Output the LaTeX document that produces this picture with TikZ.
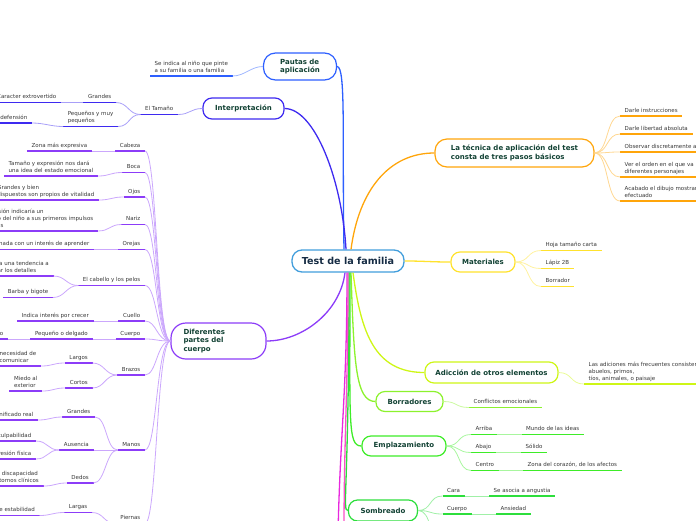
\documentclass[tikz,border=0pt]{standalone}
\usepackage{fontspec}
\setmainfont{DejaVu Sans}
\usetikzlibrary{positioning}

\begin{document}
\begin{tikzpicture}[
    x=1pt, y=-1pt,
    root/.style={
      rectangle, rounded corners=10pt,
      draw=rootBlue, fill=white, line width=1.3pt,
      minimum width=112pt, minimum height=22pt, inner sep=0pt,
      font=\bfseries\fontsize{9.6}{11}\selectfont, text=rootText
    },
    topic/.style={
      rectangle, rounded corners=9pt,
      draw=#1, fill=white, line width=1.2pt,
      inner sep=0pt, align=left,
      font=\bfseries\fontsize{7}{8.3}\selectfont, text=titleGreen
    },
    item/.style={
      inner xsep=4.5pt, inner ysep=2.2pt, text depth=1.5pt, align=left,
      font=\fontsize{5.5}{7}\selectfont, text=textGray,
      append after command={(\tikzlastnode.south west) edge[draw=#1, line width=1.8pt] (\tikzlastnode.south east)}
    },
    branch/.style={draw=#1, line width=1.3pt},
    link/.style={draw=#1!45, line width=0.8pt}
  ]
    \definecolor{rootBlue}{RGB}{66,158,220}
    \definecolor{rootText}{RGB}{22,44,68}
    \definecolor{titleGreen}{RGB}{18,66,52}
    \definecolor{textGray}{RGB}{55,55,55}
    \definecolor{pautaBlue}{RGB}{45,95,255}
    \definecolor{interViolet}{RGB}{62,42,240}
    \definecolor{tecOrange}{RGB}{255,165,10}
    \definecolor{matYellow}{RGB}{255,226,45}
    \definecolor{adicLime}{RGB}{206,246,22}
    \definecolor{borrGreen}{RGB}{140,242,45}
    \definecolor{emplGreen}{RGB}{62,236,40}
    \definecolor{sombGreen}{RGB}{45,222,60}
    \definecolor{bodyPurple}{RGB}{140,60,248}
    \definecolor{otherPink}{RGB}{232,40,222}
    \definecolor{otherRose}{RGB}{250,80,200}

    \useasboundingbox (0,0) rectangle (696,520);
    \clip (0,0) rectangle (696,520);

    % central topic
    \node[root] (test) at (348,261) {Test de la familia};

    % main topics
    \node[topic=pautaBlue, minimum width=73pt, minimum height=27pt, rounded corners=12pt] (pautas) at (300,66.5) {Pautas de\\aplicación};
    \node[topic=interViolet, minimum width=81pt, minimum height=21pt] (interp) at (243.5,108.5) {Interpretación};
    \node[topic=tecOrange, minimum width=159pt, minimum height=28pt, rounded corners=12pt] (tecnica) at (514.5,153) {La técnica de aplicación del test\\consta de tres pasos básicos};
    \node[topic=matYellow, minimum width=64pt, minimum height=20pt] (mat) at (483,262) {Materiales};
    \node[topic=adicLime, minimum width=133pt, minimum height=21pt] (adic) at (491.5,372.5) {Adicción de otros elementos};
    \node[topic=borrGreen, minimum width=67pt, minimum height=20pt] (borr) at (409.5,401.5) {Borradores};
    \node[topic=emplGreen, minimum width=84pt, minimum height=20pt] (empl) at (404,446) {Emplazamiento};
    \node[topic=sombGreen, minimum width=69pt, minimum height=21pt] (somb) at (383,510.5) {Sombreado};
    \node[topic=bodyPurple, inner xsep=12.5pt, text width=70pt, minimum height=36pt, rounded corners=15pt] (body) at (218.5,341) {Diferentes\\partes del\\cuerpo};

    % branches from the centre
    \draw[branch=pautaBlue] (pautas.east) .. controls +(9,0) and +(-2,-110) .. ([xshift=-4pt]test.north);
    \draw[branch=interViolet] (interp.east) .. controls +(30,0) and +(-4,-70) .. ([xshift=-2pt]test.north);
    \draw[branch=tecOrange] ([xshift=3pt]test.north) .. controls +(8,-60) and +(-45,0) .. (tecnica.west);
    \draw[branch=matYellow] (test.east) .. controls +(20,0) and +(-20,0) .. (mat.west);
    \draw[branch=adicLime] ([xshift=5pt]test.south) .. controls +(8,60) and +(-50,0) .. (adic.west);
    \draw[branch=borrGreen] ([xshift=3pt]test.south) .. controls +(3,90) and +(-20,0) .. (borr.west);
    \draw[branch=emplGreen] ([xshift=2pt]test.south) .. controls +(0,150) and +(-14,0) .. (empl.west);
    \draw[branch=sombGreen] ([xshift=1pt]test.south) .. controls +(0,220) and +(-6,0) .. (somb.west);
    \coordinate (offA) at (338,535);
    \coordinate (offB) at (344,535);
    \draw[branch=otherPink] ([xshift=-1pt]test.south) .. controls +(0,120) and +(2,-100) .. (offA);
    \draw[branch=otherRose] (test.south) .. controls +(0,120) and +(0,-100) .. (offB);
    \draw[branch=bodyPurple] ([xshift=-3pt]test.south) .. controls +(-5,40) and +(35,0) .. (body.east);

    % Pautas de aplicacion
    \node[item=pautaBlue, anchor=south west] (pinte) at (150,76) {Se indica al niño que pinte\\a su familia o una familia};
    \draw[link=pautaBlue] (pautas.west) .. controls +(-12,0) and +(12,0) .. (pinte.south east);

    % Interpretacion
    \node[item=interViolet, anchor=south east] (tamano) at (178,114.5) {El Tamaño};
    \node[item=interViolet, anchor=south east] (grandesT) at (116,102.5) {Grandes};
    \node[item=interViolet, anchor=south east] (caracter) at (61,102.5) {Caracter extrovertido};
    \node[item=interViolet, anchor=south east] (pequenos) at (118,126.5) {Pequeños y muy\\pequeños};
    \node[item=interViolet, anchor=south east] (defension) at (32,123) {defensión};
    \draw[link=interViolet] (interp.west) .. controls +(-12,0) and +(12,0) .. (tamano.south east);
    \foreach \a/\b in {tamano/grandesT, tamano/pequenos, grandesT/caracter, pequenos/defension}
      \draw[link=interViolet] (\a.south west) .. controls +(-12,0) and +(12,0) .. (\b.south east);

    % tecnica
    \node[item=tecOrange, anchor=south west] (instr) at (620,116) {Darle instrucciones};
    \node[item=tecOrange, anchor=south west] (libertad) at (620,134) {Darle libertad absoluta};
    \node[item=tecOrange, anchor=south west] (observar) at (620,152) {Observar discretamente al niño};
    \node[item=tecOrange, anchor=south west] (orden) at (620,177) {Ver el orden en el que va\\diferentes personajes};
    \node[item=tecOrange, anchor=south west] (acabado) at (620,201) {Acabado el dibujo mostrarle\\efectuado};
    \foreach \b in {instr,libertad,observar,orden,acabado}
      \draw[link=tecOrange] (tecnica.east) .. controls +(14,0) and +(-14,0) .. (\b.south west);

    % materiales
    \node[item=matYellow, anchor=south west] (hoja) at (541,250.5) {Hoja tamaño carta};
    \node[item=matYellow, anchor=south west] (lapiz) at (541,268.5) {Lápiz 2B};
    \node[item=matYellow, anchor=south west] (borrador) at (541,286.5) {Borrador};
    \foreach \b in {hoja,lapiz,borrador}
      \draw[link=matYellow] (mat.east) .. controls +(14,0) and +(-14,0) .. (\b.south west);

    % adiccion, borradores
    \node[item=adicLime, anchor=south west] (adiciones) at (584,384) {Las adiciones más frecuentes consisten en\\abuelos, primos,\\tíos, animales, o paisaje};
    \draw[link=adicLime] (adic.east) .. controls +(14,0) and +(-14,0) .. (adiciones.south west);
    \node[item=borrGreen, anchor=south west] (conflictos) at (469,407.5) {Conflictos emocionales};
    \draw[link=borrGreen] (borr.east) .. controls +(14,0) and +(-14,0) .. (conflictos.south west);

    % emplazamiento
    \node[item=emplGreen, anchor=south west] (arriba) at (471,434.5) {Arriba};
    \node[item=emplGreen, anchor=south west] (ideas) at (521.5,434.5) {Mundo de las ideas};
    \node[item=emplGreen, anchor=south west] (abajo) at (471,452.5) {Abajo};
    \node[item=emplGreen, anchor=south west] (solido) at (521,452.5) {Sólido};
    \node[item=emplGreen, anchor=south west] (centro) at (471,470.5) {Centro};
    \node[item=emplGreen, anchor=south west] (corazon) at (523,470.5) {Zona del corazón, de los afectos};
    \foreach \b in {arriba,abajo,centro}
      \draw[link=emplGreen] (empl.east) .. controls +(14,0) and +(-14,0) .. (\b.south west);
    \foreach \a/\b in {arriba/ideas, abajo/solido, centro/corazon}
      \draw[link=emplGreen] (\a.south east) -- (\b.south west);

    % sombreado
    \node[item=sombGreen, anchor=south west] (cara) at (442.5,496) {Cara};
    \node[item=sombGreen, anchor=south west] (angustia) at (489,496) {Se asocia a angustia};
    \node[item=sombGreen, anchor=south west] (cuerpoS) at (442.5,514) {Cuerpo};
    \node[item=sombGreen, anchor=south west] (ansiedad) at (496,514) {Ansiedad};
    \coordinate (sombOff) at (442,540);
    \foreach \b in {cara,cuerpoS,sombOff}
      \draw[link=sombGreen] (somb.east) .. controls +(14,0) and +(-14,0) .. (\b.south west);
    \foreach \a/\b in {cara/angustia, cuerpoS/ansiedad}
      \draw[link=sombGreen] (\a.south east) -- (\b.south west);

    % diferentes partes del cuerpo
    \node[item=bodyPurple, anchor=south east] (cabeza) at (145,151) {Cabeza};
    \node[item=bodyPurple, anchor=south east] (zonaExp) at (92,151) {Zona más expresiva};
    \node[item=bodyPurple, anchor=south east] (boca) at (145,172.5) {Boca};
    \node[item=bodyPurple, anchor=south east] (tamExp) at (98,176) {Tamaño y expresión nos dará\\una idea del estado emocional};
    \node[item=bodyPurple, anchor=south east] (ojos) at (145,197) {Ojos};
    \node[item=bodyPurple, anchor=south east] (vitalidad) at (99,200) {Grandes y bien\\dispuestos son propios de vitalidad};
    \node[item=bodyPurple, anchor=south east] (nariz) at (145,224.5) {Nariz};
    \node[item=bodyPurple, anchor=south east] (impulsos) at (98,231) {Su omisión indicaría un\\rechazo del niño a sus primeros impulsos\\sexuales};
    \node[item=bodyPurple, anchor=south east] (orejas) at (145,249.5) {Orejas};
    \node[item=bodyPurple, anchor=south east] (aprender) at (94,249.5) {Relacionada con un interés de aprender};
    \node[item=bodyPurple, anchor=south east] (cabello) at (145,285.5) {El cabello y los pelos};
    \node[item=bodyPurple, anchor=south east] (detalles) at (53.5,276) {Indica una tendencia a\\cuidar los detalles};
    \node[item=bodyPurple, anchor=south east] (barba) at (53,297.5) {Barba y bigote};
    \node[item=bodyPurple, anchor=south east] (cuello) at (145,321) {Cuello};
    \node[item=bodyPurple, anchor=south east] (crecer) at (93.5,321) {Indica interés por crecer};
    \node[item=bodyPurple, anchor=south east] (cuerpo) at (145,339) {Cuerpo};
    \node[item=bodyPurple, anchor=south east] (delgado) at (92.5,339) {Pequeño o delgado};
    \node[item=bodyPurple, anchor=south east] (leafO) at (8,339) {o};
    \node[item=bodyPurple, anchor=south east] (brazos) at (145,375) {Brazos};
    \node[item=bodyPurple, anchor=south east] (largos) at (92.5,363) {Largos};
    \node[item=bodyPurple, anchor=south east] (comunicar) at (41,366) {necesidad de\\comunicar};
    \node[item=bodyPurple, anchor=south east] (cortos) at (92.5,388) {Cortos};
    \node[item=bodyPurple, anchor=south east] (miedo) at (42,391) {Miedo al\\exterior};
    \node[item=bodyPurple, anchor=south east] (manos) at (145,450) {Manos};
    \node[item=bodyPurple, anchor=south east] (grandesM) at (95,417) {Grandes};
    \node[item=bodyPurple, anchor=south east] (signif) at (38,420) {Significado real};
    \node[item=bodyPurple, anchor=south east] (ausencia) at (93.5,450) {Ausencia};
    \node[item=bodyPurple, anchor=south east] (culpa) at (36,441) {Sentimiento de culpabilidad};
    \node[item=bodyPurple, anchor=south east] (agresion) at (36,459) {Agresión física};
    \node[item=bodyPurple, anchor=south east] (dedos) at (93.5,483) {Dedos};
    \node[item=bodyPurple, anchor=south east] (discap) at (43.5,486) {Indica discapacidad\\o trastornos clínicos};
    \node[item=bodyPurple, anchor=south east] (piernas) at (145,523.5) {Piernas};
    \node[item=bodyPurple, anchor=south east] (largas) at (92,512.5) {Largas};
    \node[item=bodyPurple, anchor=south east] (estabil) at (39.5,515.5) {Necesidad de estabilidad};

    \foreach \b in {cabeza,boca,ojos,nariz,orejas,cabello,cuello,cuerpo,brazos,manos,piernas}
      \draw[link=bodyPurple] (body.west) .. controls +(-14,0) and +(12,0) .. (\b.south east);
    \foreach \a/\b in {cabeza/zonaExp, boca/tamExp, ojos/vitalidad, nariz/impulsos, orejas/aprender,
                       cabello/detalles, cabello/barba, cuello/crecer, cuerpo/delgado, delgado/leafO,
                       brazos/largos, brazos/cortos, largos/comunicar, cortos/miedo,
                       manos/grandesM, manos/ausencia, manos/dedos, grandesM/signif,
                       ausencia/culpa, ausencia/agresion, dedos/discap, piernas/largas, largas/estabil}
      \draw[link=bodyPurple] (\a.south west) .. controls +(-12,0) and +(12,0) .. (\b.south east);
\end{tikzpicture}
\end{document}
